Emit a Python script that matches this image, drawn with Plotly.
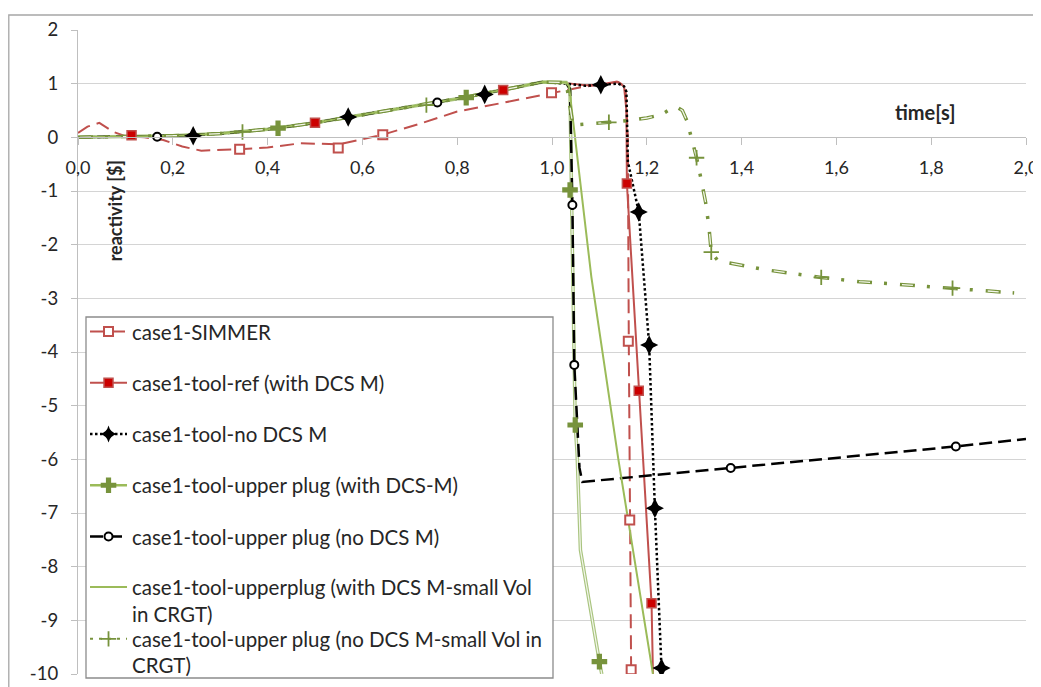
import plotly.graph_objects as go

# ---------------- axis ticks ----------------
x_ticks = [0.0, 0.2, 0.4, 0.6, 0.8, 1.0, 1.2, 1.4, 1.6, 1.8, 2.0]
x_tick_labels = ["0,0", "0,2", "0,4", "0,6", "0,8", "1,0", "1,2", "1,4", "1,6", "1,8", "2,0"]
y_ticks = [2, 1, 0, -1, -2, -3, -4, -5, -6, -7, -8, -9, -10]
y_tick_labels = ["2", "1", "0", "-1", "-2", "-3", "-4", "-5", "-6", "-7", "-8", "-9", "-10"]

# ---------------- data ----------------
# common rising part (time [s], reactivity [$])
rise_t = [0.0, 0.1, 0.2, 0.3, 0.4, 0.5, 0.6, 0.7, 0.8, 0.9, 0.98]
rise_r = [0.0, 0.01, 0.03, 0.07, 0.15, 0.27, 0.42, 0.56, 0.72, 0.89, 1.03]

# case1-SIMMER
simmer_t = [0.0, 0.02, 0.045, 0.075, 0.1, 0.14, 0.18, 0.22, 0.26, 0.3, 0.34, 0.4, 0.47, 0.55, 0.643,
            0.72, 0.8, 0.9, 1.0, 1.065, 1.115, 1.14, 1.155, 1.16, 1.162, 1.164, 1.167]
simmer_r = [0.08, 0.2, 0.27, 0.1, 0.02, 0.0, -0.05, -0.17, -0.25, -0.24, -0.22, -0.19, -0.11, -0.13, 0.05,
            0.25, 0.48, 0.65, 0.83, 0.94, 1.0, 1.03, 0.95, 0.0, -3.8, -7.1, -10.0]
simmer_mark_t = [0.341, 0.549, 0.643, 0.999, 1.161, 1.164, 1.167]
simmer_mark_r = [-0.22, -0.2, 0.05, 0.83, -3.8, -7.13, -9.92]

# case1-tool-ref (with DCS M)
ref_tail_t = [1.03, 1.07, 1.1, 1.137, 1.152, 1.157, 1.158, 1.183, 1.21, 1.213]
ref_tail_r = [1.01, 0.97, 0.98, 1.04, 0.95, 0.5, -0.86, -4.72, -8.68, -10.0]
ref_mark_t = [0.113, 0.5, 0.897, 1.158, 1.183, 1.21]
ref_mark_r = [0.04, 0.27, 0.88, -0.86, -4.72, -8.68]

# case1-tool-no DCS M
nodcs_tail_t = [1.03, 1.07, 1.103, 1.14, 1.152, 1.157, 1.16, 1.183, 1.205, 1.217, 1.231, 1.232]
nodcs_tail_r = [1.0, 0.96, 0.98, 1.0, 0.95, 0.85, -0.45, -1.39, -3.87, -6.91, -9.89, -10.0]
nodcs_mark_t = [0.243, 0.57, 0.858, 1.103, 1.183, 1.205, 1.217, 1.231]
nodcs_mark_r = [0.03, 0.38, 0.8, 0.98, -1.39, -3.87, -6.91, -9.89]

# case1-tool-upper plug (with DCS-M)
up_tail_t = [1.03, 1.038, 1.041, 1.049, 1.053, 1.06, 1.1, 1.105]
up_tail_r = [1.02, 0.9, -1.0, -5.36, -5.9, -7.69, -9.77, -10.0]
up_mark_t = [0.422, 0.819, 1.038, 1.049, 1.1]
up_mark_r = [0.17, 0.74, -0.98, -5.36, -9.77]

# case1-tool-upper plug (no DCS M)
upno_tail_t = [1.03, 1.038, 1.043, 1.047, 1.058, 1.064, 1.377, 1.852, 2.0]
upno_tail_r = [1.02, 0.9, -1.26, -4.24, -6.16, -6.42, -6.16, -5.76, -5.62]
upno_mark_t = [0.167, 0.758, 1.043, 1.047, 1.377, 1.852]
upno_mark_r = [0.01, 0.65, -1.26, -4.24, -6.16, -5.76]

# case1-tool-upperplug (with DCS M-small Vol in CRGT)
sv_tail_t = [1.03, 1.036, 1.083, 1.14, 1.213]
sv_tail_r = [1.02, 0.95, -2.6, -6.0, -10.0]

# case1-tool-upper plug (no DCS M-small Vol in CRGT)
svno_tail_t = [1.03, 1.04, 1.044, 1.12, 1.16, 1.2, 1.23, 1.26, 1.275, 1.285, 1.294, 1.305, 1.315, 1.324,
               1.331, 1.336, 1.35, 1.407, 1.452, 1.568, 1.649, 1.733, 1.845, 1.923, 1.975]
svno_tail_r = [1.02, 0.5, 0.23, 0.28, 0.31, 0.36, 0.42, 0.58, 0.5, 0.3, 0.0, -0.38, -0.8, -1.21,
               -1.66, -2.14, -2.3, -2.39, -2.47, -2.61, -2.69, -2.74, -2.81, -2.86, -2.9]
svno_mark_t = [0.347, 0.735, 1.12, 1.305, 1.336, 1.568, 1.845]
svno_mark_r = [0.1, 0.6, 0.28, -0.38, -2.14, -2.61, -2.81]

names = [
    "case1-SIMMER",
    "case1-tool-ref (with DCS M)",
    "case1-tool-no DCS M",
    "case1-tool-upper plug (with DCS-M)",
    "case1-tool-upper plug (no DCS M)",
    "case1-tool-upperplug (with DCS M-small Vol<br>in CRGT)",
    "case1-tool-upper plug (no DCS M-small Vol in<br>CRGT)",
]
legend_ids = ["legend", "legend", "legend", "legend", "legend", "legend2", "legend3"]

RED = "#C0504D"
OLIVE = "#77933C"
LGREEN = "#9BBB59"

series = [
    dict(t=simmer_t, r=simmer_r, mt=simmer_mark_t, mr=simmer_mark_r,
         line=dict(color=RED, width=2, dash="14px,7px"),
         marker=dict(symbol="square", size=9, color="white", line=dict(color=RED, width=2))),
    dict(t=rise_t + ref_tail_t, r=rise_r + ref_tail_r, mt=ref_mark_t, mr=ref_mark_r,
         line=dict(color=RED, width=2),
         marker=dict(symbol="square", size=9, color="#CC0000", line=dict(color=RED, width=1.5))),
    dict(t=rise_t + nodcs_tail_t, r=rise_r + nodcs_tail_r, mt=nodcs_mark_t, mr=nodcs_mark_r,
         line=dict(color="black", width=2.5, dash="2.5px,2.5px"),
         marker=dict(symbol="diamond-tall", size=14, color="black", line=dict(width=0)),
         marker2=dict(symbol="diamond-wide", size=13, color="black", line=dict(width=0)),
         leg_marker=dict(symbol="star-diamond", size=12, color="black", line=dict(width=0))),
    dict(t=rise_t + up_tail_t, r=rise_r + up_tail_r, mt=up_mark_t, mr=up_mark_r,
         line=dict(color="#A9C47F", width=3.5),
         inner=dict(color="#F2F6EA", width=1.2),
         marker=dict(symbol="cross", size=13, color=OLIVE, line=dict(width=0)),
         leg_line=dict(color=LGREEN, width=2.5)),
    dict(t=rise_t + upno_tail_t, r=rise_r + upno_tail_r, mt=upno_mark_t, mr=upno_mark_r,
         line=dict(color="black", width=2.5, dash="13px,6px"),
         marker=dict(symbol="circle", size=8, color="white", line=dict(color="black", width=2))),
    dict(t=rise_t + sv_tail_t, r=rise_r + sv_tail_r, mt=None, mr=None,
         line=dict(color=LGREEN, width=2), marker=None),
    dict(t=rise_t + svno_tail_t, r=rise_r + svno_tail_r, mt=svno_mark_t, mr=svno_mark_r,
         line=dict(color=OLIVE, width=3.5, dash="15px,12px,3px,13px"),
         inner=dict(color="#F2F6EA", width=1.3, dash="0px,2px,11px,30px"),
         marker=dict(symbol="cross-thin", size=11, color=OLIVE, line=dict(color=OLIVE, width=1.8)),
         leg_line=dict(color=OLIVE, width=2, dash="3px,6px")),
]

fig = go.Figure()

# lines
for s in series:
    fig.add_trace(go.Scatter(x=s["t"], y=s["r"], mode="lines", line=s["line"],
                             showlegend=False, hoverinfo="skip"))
    if "inner" in s:
        fig.add_trace(go.Scatter(x=s["t"], y=s["r"], mode="lines", line=s["inner"],
                                 showlegend=False, hoverinfo="skip"))

# markers
for s in series:
    if s["mt"] is not None:
        fig.add_trace(go.Scatter(x=s["mt"], y=s["mr"], mode="markers", marker=s["marker"],
                                 showlegend=False, hoverinfo="skip"))
        if "marker2" in s:
            fig.add_trace(go.Scatter(x=s["mt"], y=s["mr"], mode="markers", marker=s["marker2"],
                                     showlegend=False, hoverinfo="skip"))

# legend entries
for i, (s, name, lid) in enumerate(zip(series, names, legend_ids)):
    mk = s.get("leg_marker", s["marker"])
    mode = "lines+markers" if mk is not None else "lines"
    kw = dict(marker=mk) if mk is not None else {}
    fig.add_trace(go.Scatter(x=[None], y=[None], mode=mode, name=name,
                             line=s.get("leg_line", s["line"]), legend=lid,
                             legendgroup="g%d" % i, **kw))

GRID = "#D4D4D4"
AXIS = "#BFBFBF"
TXT = "#262626"

leg_common = dict(xanchor="left", yanchor="top", bgcolor="rgba(0,0,0,0)", borderwidth=0,
                  font=dict(size=20.5, color=TXT), itemwidth=37, valign="top", traceorder="grouped")

fig.update_layout(
    width=1033, height=679,
    margin=dict(l=70, r=15, t=22, b=13, autoexpand=False),
    paper_bgcolor="white", plot_bgcolor="white",
    font=dict(family="Lato", size=18, color=TXT),
    xaxis=dict(range=[0, 2], anchor="free", position=10 / 12, showgrid=False, zeroline=False,
               showline=True, linecolor=AXIS, linewidth=1.3,
               ticks="outside", ticklen=7, tickcolor=AXIS, tickwidth=1.3,
               tickvals=x_ticks, ticktext=x_tick_labels, ticklabelstandoff=7,
               tickfont=dict(size=18, color=TXT)),
    yaxis=dict(range=[-10, 2], showgrid=True, gridcolor=GRID, gridwidth=1.3, zeroline=False,
               showline=True, linecolor=AXIS, linewidth=1.3,
               ticks="outside", ticklen=6, tickcolor=AXIS, tickwidth=1.3,
               tickvals=y_ticks, ticktext=y_tick_labels, ticklabelstandoff=9,
               tickfont=dict(size=18.5, color=TXT)),
    legend=dict(x=0.0074, y=0.5626, tracegroupgap=21.6, **leg_common),
    legend2=dict(x=0.0074, y=0.1657, tracegroupgap=0, **leg_common),
    legend3=dict(x=0.0074, y=0.0854, tracegroupgap=0, **leg_common),
    shapes=[
        # outer chart frame
        dict(type="rect", xref="paper", yref="paper", x0=-0.0730, x1=1.05, y0=-0.05, y1=1.0233,
             line=dict(color="#A6A6A6", width=1.3), fillcolor="rgba(0,0,0,0)", layer="below"),
        # legend box
        dict(type="rect", xref="paper", yref="paper",
             x0=(86 - 78) / 948, x1=(553 - 78) / 948, y0=(674 - 678) / 644, y1=(674 - 317) / 644,
             line=dict(color="#8C8C8C", width=1.3), fillcolor="white", layer="above"),
    ],
    annotations=[
        dict(text="<b>time[s]</b>", x=1.786, y=0.47, xref="x", yref="y", showarrow=False,
             font=dict(size=20, color=TXT)),
        dict(text="<b>reactivity [$]</b>", x=0.077, y=-1.37, xref="x", yref="y", showarrow=False,
             textangle=-90, font=dict(size=18, color=TXT)),
    ],
)

fig.write_html("out.html")
